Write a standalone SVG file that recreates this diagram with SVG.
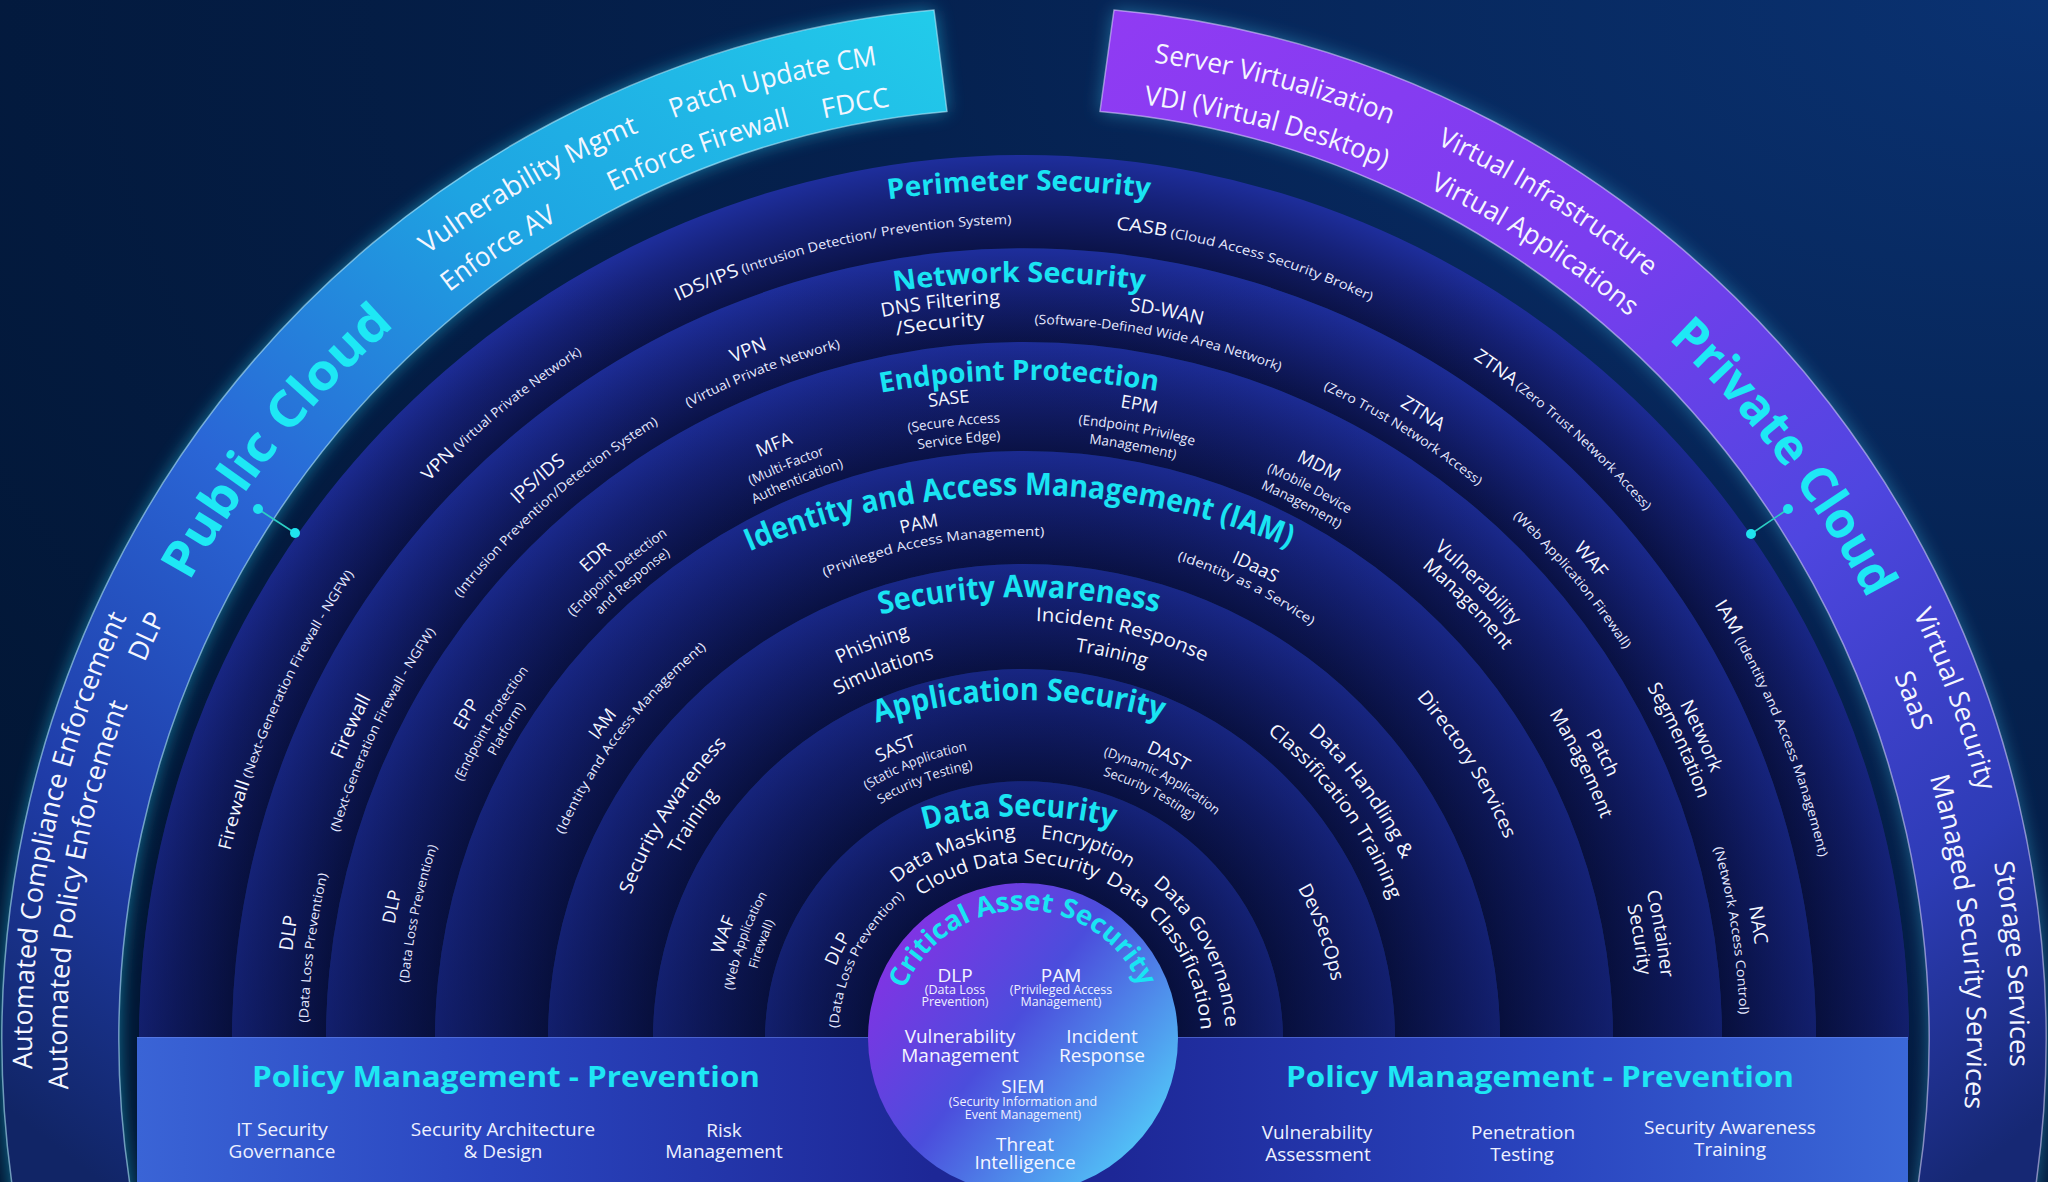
<svg xmlns="http://www.w3.org/2000/svg" width="2048" height="1182" viewBox="0 0 2048 1182">
<style>
text{font-family:"Open Sans",Lato,"Liberation Sans",sans-serif;text-anchor:middle;fill:#f4f6ff}
.t{font-size:28px;font-weight:700;fill:#19e4f3}
.t2{font-size:31px;font-weight:700;fill:#19e4f3}
.n{font-size:18px;font-weight:500}
.m{font-size:19px;font-weight:500}
.p{font-size:13px;font-weight:400;fill:#e6e9ff}
.p2{font-size:13.5px;font-weight:400;fill:#e6e9ff}
.b{font-size:27px;font-weight:500}
.big{font-size:50px;font-weight:700;fill:#1ee8f5}
.pt{font-size:29px;font-weight:700;fill:#1ee6f4}
.bi{font-size:19px;font-weight:500;fill:#eef1ff}
.ci{font-size:19px;font-weight:500}
.cp{font-size:12.5px;font-weight:400;fill:#eef0ff}
.dot{fill:#1fe3ef}
</style>
<defs>
<radialGradient id="bg" cx="1" cy="0" r="1.25">
<stop offset="0" stop-color="#0a3272"/><stop offset="0.45" stop-color="#05214f"/><stop offset="1" stop-color="#021634"/>
</radialGradient>
<linearGradient id="gPub" gradientUnits="userSpaceOnUse" x1="940" y1="20" x2="60" y2="1150">
<stop offset="0" stop-color="#22cbea"/><stop offset="0.3" stop-color="#1ea4e2"/><stop offset="0.55" stop-color="#2a66d6"/><stop offset="0.8" stop-color="#1f3ca8"/><stop offset="1" stop-color="#112566"/>
</linearGradient>
<linearGradient id="gPriv" gradientUnits="userSpaceOnUse" x1="1110" y1="20" x2="2000" y2="1150">
<stop offset="0" stop-color="#903bf3"/><stop offset="0.33" stop-color="#7a3def"/><stop offset="0.58" stop-color="#4f46e0"/><stop offset="0.82" stop-color="#2d3cb6"/><stop offset="1" stop-color="#162874"/>
</linearGradient>
<filter id="glow" x="-10%" y="-10%" width="120%" height="120%"><feGaussianBlur stdDeviation="9"/></filter>
<linearGradient id="shade" gradientUnits="userSpaceOnUse" x1="0" y1="250" x2="0" y2="1040">
<stop offset="0" stop-color="#020a2a" stop-opacity="0"/><stop offset="1" stop-color="#020a2a" stop-opacity="0.42"/>
</linearGradient>
<radialGradient id="rPer" gradientUnits="userSpaceOnUse" cx="1024" cy="1040" r="885"><stop offset="0.895" stop-color="#0b1349"/><stop offset="0.96" stop-color="#16227a"/><stop offset="1" stop-color="#1e2e9c"/></radialGradient>
<radialGradient id="rNet" gradientUnits="userSpaceOnUse" cx="1024" cy="1040" r="792"><stop offset="0.881" stop-color="#0b1349"/><stop offset="0.95" stop-color="#16227a"/><stop offset="1" stop-color="#1e2e9c"/></radialGradient>
<radialGradient id="rEnd" gradientUnits="userSpaceOnUse" cx="1024" cy="1040" r="698"><stop offset="0.844" stop-color="#0b1349"/><stop offset="0.94" stop-color="#16227a"/><stop offset="1" stop-color="#1e2e9c"/></radialGradient>
<radialGradient id="rIam" gradientUnits="userSpaceOnUse" cx="1024" cy="1040" r="589"><stop offset="0.808" stop-color="#0b1349"/><stop offset="0.92" stop-color="#16227a"/><stop offset="1" stop-color="#1e2e9c"/></radialGradient>
<radialGradient id="rSaw" gradientUnits="userSpaceOnUse" cx="1024" cy="1040" r="476"><stop offset="0.779" stop-color="#0b1349"/><stop offset="0.91" stop-color="#16227a"/><stop offset="1" stop-color="#1e2e9c"/></radialGradient>
<radialGradient id="rApp" gradientUnits="userSpaceOnUse" cx="1024" cy="1040" r="371"><stop offset="0.698" stop-color="#0b1349"/><stop offset="0.88" stop-color="#16227a"/><stop offset="1" stop-color="#1e2e9c"/></radialGradient>
<radialGradient id="rData" gradientUnits="userSpaceOnUse" cx="1024" cy="1040" r="259"><stop offset="0.598" stop-color="#0b1349"/><stop offset="0.85" stop-color="#16227a"/><stop offset="1" stop-color="#1e2e9c"/></radialGradient>
<linearGradient id="gBar" x1="0" y1="0" x2="1" y2="0">
<stop offset="0" stop-color="#3a64d6"/><stop offset="0.2" stop-color="#2a45bf"/><stop offset="0.45" stop-color="#1d2796"/><stop offset="0.55" stop-color="#1d2796"/><stop offset="0.8" stop-color="#2a45bf"/><stop offset="1" stop-color="#3b68d8"/>
</linearGradient>
<linearGradient id="gCrit" x1="0.1" y1="0" x2="1" y2="0.7">
<stop offset="0" stop-color="#8e2de6"/><stop offset="0.5" stop-color="#4b4ddc"/><stop offset="1" stop-color="#52c3f7"/>
</linearGradient>
<path id="tPer" d="M381.2 424 A1000 1000 0 0 1 1666.8 424"/>
<path id="tNet" d="M440.3 494.5 A908 908 0 0 1 1607.7 494.5"/>
<path id="tEnd" d="M503.3 569.5 A810 810 0 0 1 1544.7 569.5"/>
<path id="tIam" d="M577.2 657.6 A695 695 0 0 1 1470.8 657.6"/>
<path id="tSaw" d="M642.8 735.8 A593 593 0 0 1 1405.2 735.8"/>
<path id="tApp" d="M709 814.7 A490 490 0 0 1 1339 814.7"/>
<path id="tData" d="M783.6 903.5 A374 374 0 0 1 1264.4 903.5"/>
<path id="a992" d="M91.8 1379.3 A992 992 0 1 1 1956.2 1379.3"/>
<path id="a986" d="M97.5 1377.2 A986 986 0 1 1 1950.5 1377.2"/>
<path id="a957" d="M124.7 1367.3 A957 957 0 1 1 1923.3 1367.3"/>
<path id="a952" d="M129.4 1365.6 A952 952 0 1 1 1918.6 1365.6"/>
<path id="a943" d="M137.9 1362.5 A943 943 0 1 1 1910.1 1362.5"/>
<path id="a816" d="M257.2 1319.1 A816 816 0 1 1 1790.8 1319.1"/>
<path id="a737" d="M331.4 1292.1 A737 737 0 1 1 1716.6 1292.1"/>
<path id="a716" d="M351.2 1284.9 A716 716 0 1 1 1696.8 1284.9"/>
<path id="a640" d="M422.6 1258.9 A640 640 0 1 1 1625.4 1258.9"/>
<path id="a618" d="M443.3 1251.4 A618 618 0 1 1 1604.7 1251.4"/>
<path id="a600" d="M460.2 1245.2 A600 600 0 1 1 1587.8 1245.2"/>
<path id="a521" d="M534.4 1218.2 A521 521 0 1 1 1513.6 1218.2"/>
<path id="a504" d="M550.4 1212.4 A504 504 0 1 1 1497.6 1212.4"/>
<path id="a419" d="M630.3 1183.3 A419 419 0 1 1 1417.7 1183.3"/>
<path id="a392" d="M655.6 1174.1 A392 392 0 1 1 1392.4 1174.1"/>
<path id="a313" d="M729.9 1147.1 A313 313 0 1 1 1318.1 1147.1"/>
<path id="a295" d="M746.8 1140.9 A295 295 0 1 1 1301.2 1140.9"/>
<path id="a276" d="M764.6 1134.4 A276 276 0 1 1 1283.4 1134.4"/>
<path id="a202" d="M834.2 1109.1 A202 202 0 1 1 1213.8 1109.1"/>
<path id="a186" d="M849.2 1103.6 A186 186 0 1 1 1198.8 1103.6"/>
<path id="a177" d="M857.7 1100.5 A177 177 0 1 1 1190.3 1100.5"/>
<path id="aCrit" d="M902.7 1081.8 A128 128 0 1 1 1143.3 1081.8"/>
</defs>

<rect width="2048" height="1182" fill="url(#bg)"/>

<g id="public-cloud">
<path d="M14.3 1200 A1022 1034 0 0 1 934 10 L947 111.4 A905 932 0 0 0 132.4 1200 Z" fill="#22c8f0" opacity="0.55" filter="url(#glow)"/>
<path d="M14.3 1200 A1022 1034 0 0 1 934 10 L947 111.4 A905 932 0 0 0 132.4 1200 Z" fill="url(#gPub)" stroke="#bfefff" stroke-opacity="0.55" stroke-width="1.5"/>
<text class="b"><textPath href="#a986" startOffset="36.32%" textLength="245" lengthAdjust="spacingAndGlyphs">Vulnerability Mgmt</textPath></text>
<text class="b"><textPath href="#a943" startOffset="34.73%" textLength="130" lengthAdjust="spacingAndGlyphs">Enforce AV</textPath></text>
<text class="b"><textPath href="#a986" startOffset="43.32%" textLength="212" lengthAdjust="spacingAndGlyphs">Patch Update CM</textPath></text>
<text class="b"><textPath href="#a943" startOffset="40.86%" textLength="190" lengthAdjust="spacingAndGlyphs">Enforce Firewall</textPath></text>
<text class="b"><textPath href="#a943" startOffset="45.36%" textLength="68" lengthAdjust="spacingAndGlyphs">FDCC</textPath></text>
<text class="big"><textPath href="#a952" startOffset="26.68%" textLength="330" lengthAdjust="spacingAndGlyphs">Public Cloud</textPath></text>
<text class="b"><textPath href="#a957" startOffset="20.32%">DLP</textPath></text>
<text class="b"><textPath href="#a992" startOffset="14.45%" textLength="466" lengthAdjust="spacingAndGlyphs">Automated Compliance Enforcement</textPath></text>
<text class="b"><textPath href="#a957" startOffset="13.09%" textLength="392" lengthAdjust="spacingAndGlyphs">Automated Policy Enforcement</textPath></text>
</g>

<g id="private-cloud">
<path d="M2033.7 1200 A1022 1034 0 0 0 1114 10 L1100 111.4 A905 932 0 0 1 1915.6 1200 Z" fill="#40c4f0" opacity="0.45" filter="url(#glow)"/>
<path d="M2033.7 1200 A1022 1034 0 0 0 1114 10 L1100 111.4 A905 932 0 0 1 1915.6 1200 Z" fill="url(#gPriv)" stroke="#e2d6ff" stroke-opacity="0.55" stroke-width="1.5"/>
<text class="b"><textPath href="#a986" startOffset="56.68%" textLength="245" lengthAdjust="spacingAndGlyphs">Server Virtualization</textPath></text>
<text class="b"><textPath href="#a943" startOffset="56.77%" textLength="250" lengthAdjust="spacingAndGlyphs">VDI (Virtual Desktop)</textPath></text>
<text class="b"><textPath href="#a986" startOffset="64.55%" textLength="250" lengthAdjust="spacingAndGlyphs">Virtual Infrastructure</textPath></text>
<text class="b"><textPath href="#a943" startOffset="64.86%" textLength="238" lengthAdjust="spacingAndGlyphs">Virtual Applications</textPath></text>
<text class="big"><textPath href="#a952" startOffset="73.86%" textLength="330" lengthAdjust="spacingAndGlyphs">Private Cloud</textPath></text>
<text class="b"><textPath href="#a986" startOffset="81.77%" textLength="190" lengthAdjust="spacingAndGlyphs">Virtual Security</textPath></text>
<text class="b"><textPath href="#a943" startOffset="81.41%" textLength="60" lengthAdjust="spacingAndGlyphs">SaaS</textPath></text>
<text class="b"><textPath href="#a986" startOffset="88.91%" textLength="205" lengthAdjust="spacingAndGlyphs">Storage Services</textPath></text>
<text class="b"><textPath href="#a943" startOffset="88.18%" textLength="335" lengthAdjust="spacingAndGlyphs">Managed Security Services</textPath></text>
</g>

<g id="perimeter-security">
<path d="M139 1040 A885 885 0 0 1 1909 1040 L1816 1040 A792 792 0 0 0 232 1040 Z" fill="url(#rPer)"/>
<path d="M139 1040 A885 885 0 0 1 1909 1040 L1816 1040 A792 792 0 0 0 232 1040 Z" fill="url(#shade)"/>
<text class="t"><textPath href="#tPer" startOffset="49.64%" textLength="262" lengthAdjust="spacingAndGlyphs">Perimeter Security</textPath></text>
<text><textPath href="#a816" startOffset="44.09%" textLength="345" lengthAdjust="spacingAndGlyphs"><tspan class="n">IDS/IPS</tspan><tspan class="p"> (Intrusion Detection/ Prevention System)</tspan></textPath></text>
<text><textPath href="#a816" startOffset="57.18%" textLength="266" lengthAdjust="spacingAndGlyphs"><tspan class="n">CASB</tspan><tspan class="p"> (Cloud Access Security Broker)</tspan></textPath></text>
<text><textPath href="#a816" startOffset="31.91%" textLength="200" lengthAdjust="spacingAndGlyphs"><tspan class="n">VPN</tspan><tspan class="p"> (Virtual Private Network)</tspan></textPath></text>
<text><textPath href="#a816" startOffset="68.86%" textLength="231" lengthAdjust="spacingAndGlyphs"><tspan class="n">ZTNA</tspan><tspan class="p"> (Zero Trust Network Access)</tspan></textPath></text>
<text><textPath href="#a816" startOffset="20.05%" textLength="305" lengthAdjust="spacingAndGlyphs"><tspan class="n">Firewall</tspan><tspan class="p"> (Next-Generation Firewall - NGFW)</tspan></textPath></text>
<text><textPath href="#a816" startOffset="80.64%" textLength="275" lengthAdjust="spacingAndGlyphs"><tspan class="n">IAM</tspan><tspan class="p"> (Identity and Access Management)</tspan></textPath></text>
</g>

<g id="network-security">
<path d="M232 1040 A792 792 0 0 1 1816 1040 L1722 1040 A698 698 0 0 0 326 1040 Z" fill="url(#rNet)"/>
<path d="M232 1040 A792 792 0 0 1 1816 1040 L1722 1040 A698 698 0 0 0 326 1040 Z" fill="url(#shade)"/>
<text class="t"><textPath href="#tNet" startOffset="49.61%" textLength="251" lengthAdjust="spacingAndGlyphs">Network Security</textPath></text>
<text class="m"><textPath href="#a737" startOffset="47.05%" textLength="119" lengthAdjust="spacingAndGlyphs">DNS Filtering</textPath></text>
<text class="m"><textPath href="#a716" startOffset="46.95%" textLength="89" lengthAdjust="spacingAndGlyphs">/Security</textPath></text>
<text class="m"><textPath href="#a737" startOffset="55.05%">SD-WAN</textPath></text>
<text class="p"><textPath href="#a716" startOffset="54.95%" textLength="251" lengthAdjust="spacingAndGlyphs">(Software-Defined Wide Area Network)</textPath></text>
<text class="m"><textPath href="#a737" startOffset="40.09%">VPN</textPath></text>
<text class="p"><textPath href="#a716" startOffset="40.27%" textLength="164" lengthAdjust="spacingAndGlyphs">(Virtual Private Network)</textPath></text>
<text class="m"><textPath href="#a737" startOffset="31.41%">IPS/IDS</textPath></text>
<text class="p"><textPath href="#a716" startOffset="31.23%" textLength="265" lengthAdjust="spacingAndGlyphs">(Intrusion Prevention/Detection System)</textPath></text>
<text class="m"><textPath href="#a737" startOffset="20.45%">Firewall</textPath></text>
<text class="p"><textPath href="#a716" startOffset="20.82%" textLength="224" lengthAdjust="spacingAndGlyphs">(Next-Generation Firewall - NGFW)</textPath></text>
<text class="m"><textPath href="#a737" startOffset="12.86%">DLP</textPath></text>
<text class="p"><textPath href="#a716" startOffset="12.45%" textLength="150" lengthAdjust="spacingAndGlyphs">(Data Loss Prevention)</textPath></text>
<text class="m"><textPath href="#a737" startOffset="64.77%">ZTNA</textPath></text>
<text class="p"><textPath href="#a716" startOffset="64.55%" textLength="183" lengthAdjust="spacingAndGlyphs">(Zero Trust Network Access)</textPath></text>
<text class="m"><textPath href="#a737" startOffset="72.59%">WAF</textPath></text>
<text class="p"><textPath href="#a716" startOffset="72.73%" textLength="174" lengthAdjust="spacingAndGlyphs">(Web Application Firewall)</textPath></text>
<text class="m"><textPath href="#a737" startOffset="79.91%">Network</textPath></text>
<text class="m"><textPath href="#a716" startOffset="79.73%">Segmentation</textPath></text>
<text class="m"><textPath href="#a737" startOffset="86.86%">NAC</textPath></text>
<text class="p"><textPath href="#a716" startOffset="86.91%" textLength="169" lengthAdjust="spacingAndGlyphs">(Network Access Control)</textPath></text>
</g>

<g id="endpoint-protection">
<path d="M326 1040 A698 698 0 0 1 1722 1040 L1613 1040 A589 589 0 0 0 435 1040 Z" fill="url(#rEnd)"/>
<path d="M326 1040 A698 698 0 0 1 1722 1040 L1613 1040 A589 589 0 0 0 435 1040 Z" fill="url(#shade)"/>
<text class="t"><textPath href="#tEnd" startOffset="49.56%" textLength="278" lengthAdjust="spacingAndGlyphs">Endpoint Protection</textPath></text>
<text class="n"><textPath href="#a640" startOffset="46.95%">SASE</textPath></text>
<text class="p2"><textPath href="#a618" startOffset="47.05%">(Secure Access</textPath></text>
<text class="p2"><textPath href="#a600" startOffset="47.18%">Service Edge)</textPath></text>
<text class="n"><textPath href="#a640" startOffset="54.68%">EPM</textPath></text>
<text class="p2"><textPath href="#a618" startOffset="54.77%">(Endpoint Privilege</textPath></text>
<text class="p2"><textPath href="#a600" startOffset="54.73%">Management)</textPath></text>
<text class="n"><textPath href="#a640" startOffset="39.64%">MFA</textPath></text>
<text class="p2"><textPath href="#a618" startOffset="39.77%">(Multi-Factor</textPath></text>
<text class="p2"><textPath href="#a600" startOffset="39.95%">Authentication)</textPath></text>
<text class="n"><textPath href="#a640" startOffset="62.36%">MDM</textPath></text>
<text class="p2"><textPath href="#a618" startOffset="62.45%">(Mobile Device</textPath></text>
<text class="p2"><textPath href="#a600" startOffset="62.45%">Management)</textPath></text>
<text class="n"><textPath href="#a640" startOffset="31.09%">EDR</textPath></text>
<text class="p2"><textPath href="#a618" startOffset="31.36%">(Endpoint Detection</textPath></text>
<text class="p2"><textPath href="#a600" startOffset="31.59%">and Response)</textPath></text>
<text class="n"><textPath href="#a640" startOffset="22.86%">EPP</textPath></text>
<text class="p2"><textPath href="#a618" startOffset="23.05%">(Endpoint Protection</textPath></text>
<text class="p2"><textPath href="#a600" startOffset="23.18%">Platform)</textPath></text>
<text class="n"><textPath href="#a640" startOffset="14.5%">DLP</textPath></text>
<text class="p"><textPath href="#a618" startOffset="14.45%" textLength="140" lengthAdjust="spacingAndGlyphs">(Data Loss Prevention)</textPath></text>
<text class="m"><textPath href="#a640" startOffset="70.36%">Vulnerability</textPath></text>
<text class="m"><textPath href="#a618" startOffset="70.68%">Management</textPath></text>
<text class="m"><textPath href="#a640" startOffset="78.91%">Patch</textPath></text>
<text class="m"><textPath href="#a618" startOffset="78.91%">Management</textPath></text>
<text class="m"><textPath href="#a640" startOffset="86.59%">Container</textPath></text>
<text class="m"><textPath href="#a618" startOffset="86.68%">Security</textPath></text>
</g>

<g id="identity-access-management">
<path d="M435 1040 A589 589 0 0 1 1613 1040 L1500 1040 A476 476 0 0 0 548 1040 Z" fill="url(#rIam)"/>
<path d="M435 1040 A589 589 0 0 1 1613 1040 L1500 1040 A476 476 0 0 0 548 1040 Z" fill="url(#shade)"/>
<text class="t2"><textPath href="#tIam" startOffset="49.48%" textLength="554" lengthAdjust="spacingAndGlyphs">Identity and Access Management (IAM)</textPath></text>
<text class="n"><textPath href="#a521" startOffset="44.77%">PAM</textPath></text>
<text class="p"><textPath href="#a504" startOffset="45.23%" textLength="225" lengthAdjust="spacingAndGlyphs">(Privileged Access Management)</textPath></text>
<text class="n"><textPath href="#a521" startOffset="61.86%">IDaaS</textPath></text>
<text class="p"><textPath href="#a504" startOffset="61.91%" textLength="150" lengthAdjust="spacingAndGlyphs">(Identity as a Service)</textPath></text>
<text class="n"><textPath href="#a521" startOffset="25.86%">IAM</textPath></text>
<text class="p"><textPath href="#a504" startOffset="26.14%" textLength="237" lengthAdjust="spacingAndGlyphs">(Identity and Access Management)</textPath></text>
<text class="m"><textPath href="#a521" startOffset="76.41%" textLength="168" lengthAdjust="spacingAndGlyphs">Directory Services</textPath></text>
</g>

<g id="security-awareness">
<path d="M548 1040 A476 476 0 0 1 1500 1040 L1395 1040 A371 371 0 0 0 653 1040 Z" fill="url(#rSaw)"/>
<path d="M548 1040 A476 476 0 0 1 1500 1040 L1395 1040 A371 371 0 0 0 653 1040 Z" fill="url(#shade)"/>
<text class="t2"><textPath href="#tSaw" startOffset="49.4%" textLength="280" lengthAdjust="spacingAndGlyphs">Security Awareness</textPath></text>
<text class="m"><textPath href="#a419" startOffset="40.45%">Phishing</textPath></text>
<text class="m"><textPath href="#a392" startOffset="40.55%">Simulations</textPath></text>
<text class="m"><textPath href="#a419" startOffset="56.18%" textLength="175" lengthAdjust="spacingAndGlyphs">Incident Response</textPath></text>
<text class="m"><textPath href="#a392" startOffset="55.82%">Training</textPath></text>
<text class="m"><textPath href="#a419" startOffset="23.91%" textLength="180" lengthAdjust="spacingAndGlyphs">Security Awareness</textPath></text>
<text class="m"><textPath href="#a392" startOffset="24.32%">Training</textPath></text>
<text class="m"><textPath href="#a419" startOffset="74.36%" textLength="160" lengthAdjust="spacingAndGlyphs">Data Handling &amp;</textPath></text>
<text class="m"><textPath href="#a392" startOffset="74.41%" textLength="210" lengthAdjust="spacingAndGlyphs">Classification Training</textPath></text>
</g>

<g id="application-security">
<path d="M653 1040 A371 371 0 0 1 1395 1040 L1283 1040 A259 259 0 0 0 765 1040 Z" fill="url(#rApp)"/>
<path d="M653 1040 A371 371 0 0 1 1395 1040 L1283 1040 A259 259 0 0 0 765 1040 Z" fill="url(#shade)"/>
<text class="t2"><textPath href="#tApp" startOffset="49.27%" textLength="290" lengthAdjust="spacingAndGlyphs">Application Security</textPath></text>
<text class="n"><textPath href="#a313" startOffset="39.18%">SAST</textPath></text>
<text class="p"><textPath href="#a295" startOffset="40.18%">(Static Application</textPath></text>
<text class="p"><textPath href="#a276" startOffset="40.45%">Security Testing)</textPath></text>
<text class="n"><textPath href="#a313" startOffset="62.27%">DAST</textPath></text>
<text class="p"><textPath href="#a295" startOffset="62.73%">(Dynamic Application</textPath></text>
<text class="p"><textPath href="#a276" startOffset="62.23%">Security Testing)</textPath></text>
<text class="n"><textPath href="#a313" startOffset="17.86%">WAF</textPath></text>
<text class="p"><textPath href="#a295" startOffset="18%">(Web Application</textPath></text>
<text class="p"><textPath href="#a276" startOffset="18.23%">Firewall)</textPath></text>
<text class="m"><textPath href="#a313" startOffset="81.86%">DevSecOps</textPath></text>
</g>

<g id="data-security">
<path d="M765 1040 A259 259 0 0 1 1283 1040 Z" fill="url(#rData)"/>
<path d="M765 1040 A259 259 0 0 1 1283 1040 Z" fill="url(#shade)"/>
<text class="t2"><textPath href="#tData" startOffset="49.04%" textLength="192" lengthAdjust="spacingAndGlyphs">Data Security</textPath></text>
<text class="m"><textPath href="#a202" startOffset="40.55%" textLength="130" lengthAdjust="spacingAndGlyphs">Data Masking</textPath></text>
<text class="m"><textPath href="#a202" startOffset="58.27%">Encryption</textPath></text>
<text class="m"><textPath href="#a177" startOffset="47.41%" textLength="185" lengthAdjust="spacingAndGlyphs">Cloud Data Security</textPath></text>
<text class="m"><textPath href="#a177" startOffset="75.91%" textLength="184" lengthAdjust="spacingAndGlyphs">Data Classification</textPath></text>
<text class="m"><textPath href="#a202" startOffset="78.64%" textLength="165" lengthAdjust="spacingAndGlyphs">Data Governance</textPath></text>
<text class="n"><textPath href="#a202" startOffset="20.95%">DLP</textPath></text>
<text class="p"><textPath href="#a186" startOffset="21.32%" textLength="151" lengthAdjust="spacingAndGlyphs">(Data Loss Prevention)</textPath></text>
</g>

<g id="policy-management">
<rect x="137" y="1037" width="1771" height="150" fill="url(#gBar)"/>
<line x1="137" y1="1037.5" x2="1908" y2="1037.5" stroke="#6f8cf0" stroke-opacity="0.5" stroke-width="1"/>
<g id="policy-prevention-left">
<text class="pt" x="506" y="1087" textLength="508" lengthAdjust="spacingAndGlyphs">Policy Management - Prevention</text>
<text class="bi" x="282" y="1136">IT Security</text>
<text class="bi" x="282" y="1158">Governance</text>
<text class="bi" x="503" y="1136">Security Architecture</text>
<text class="bi" x="503" y="1158">&amp; Design</text>
<text class="bi" x="724" y="1137">Risk</text>
<text class="bi" x="724" y="1158">Management</text>
</g>
<g id="policy-prevention-right">
<text class="pt" x="1540" y="1087" textLength="508" lengthAdjust="spacingAndGlyphs">Policy Management - Prevention</text>
<text class="bi" x="1317" y="1139">Vulnerability</text>
<text class="bi" x="1318" y="1161">Assessment</text>
<text class="bi" x="1523" y="1139">Penetration</text>
<text class="bi" x="1522" y="1161">Testing</text>
<text class="bi" x="1730" y="1134">Security Awareness</text>
<text class="bi" x="1730" y="1156">Training</text>
</g>
</g>

<g id="critical-asset-security">
<circle cx="1023" cy="1038" r="155" fill="url(#gCrit)"/>
<text class="t" style="font-size:27px"><textPath href="#aCrit" startOffset="49.77%" textLength="300" lengthAdjust="spacingAndGlyphs">Critical Asset Security</textPath></text>
<text class="ci" x="955" y="982">DLP</text>
<text class="cp" x="955" y="994">(Data Loss</text>
<text class="cp" x="955" y="1006">Prevention)</text>
<text class="ci" x="1061" y="982">PAM</text>
<text class="cp" x="1061" y="994">(Privileged Access</text>
<text class="cp" x="1061" y="1006">Management)</text>
<text class="ci" x="960" y="1043">Vulnerability</text>
<text class="ci" x="960" y="1062">Management</text>
<text class="ci" x="1102" y="1043">Incident</text>
<text class="ci" x="1102" y="1062">Response</text>
<text class="ci" x="1023" y="1093">SIEM</text>
<text class="cp" x="1023" y="1106">(Security Information and</text>
<text class="cp" x="1023" y="1119">Event Management)</text>
<text class="ci" x="1025" y="1151">Threat</text>
<text class="ci" x="1025" y="1169">Intelligence</text>
</g>

<g id="connectors">
<line x1="258" y1="509" x2="295" y2="533" stroke="#2ccfc4" stroke-width="1.6"/>
<circle class="dot" cx="258" cy="509" r="5"/>
<circle class="dot" cx="295" cy="533" r="5"/>
<line x1="1788" y1="509" x2="1751" y2="534" stroke="#2ccfc4" stroke-width="1.6"/>
<circle class="dot" cx="1788" cy="509" r="5"/>
<circle class="dot" cx="1751" cy="534" r="5"/>
</g>
</svg>
